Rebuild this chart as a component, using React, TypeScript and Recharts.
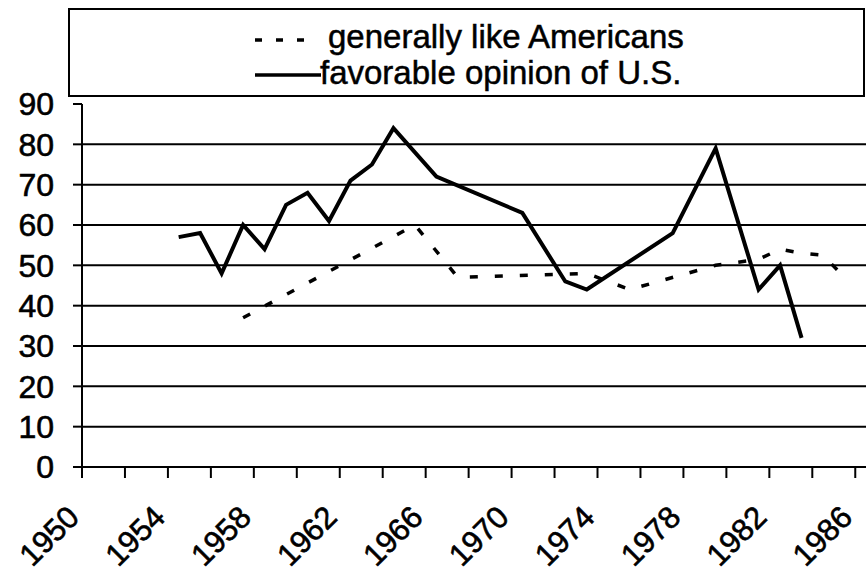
import React from 'react';
import { LineChart, Line, XAxis, YAxis, ReferenceLine, Legend } from 'recharts';

// ---- data ----
const favorableYears = [1954, 1955, 1956, 1957, 1958, 1959, 1960, 1961, 1962, 1963, 1964, 1966, 1970, 1972, 1973, 1977, 1979, 1981, 1982, 1983];
const favorableValues = [57, 58, 48, 60, 54, 65, 68, 61, 71, 75, 84, 72, 63, 46, 44, 58, 79, 44, 50, 32];

const likeYears = [1957, 1965, 1967, 1973, 1975, 1979, 1981, 1982, 1983, 1984, 1985];
const likeValues = [37, 60, 47, 48, 44, 50, 51.5, 54, 53, 52.5, 47];

const xTickYears = [1950, 1952, 1954, 1956, 1958, 1960, 1962, 1964, 1966, 1968, 1970, 1972, 1974, 1976, 1978, 1980, 1982, 1984, 1986];
const xLabelYears = [1950, 1954, 1958, 1962, 1966, 1970, 1974, 1978, 1982, 1986];
const yTicks = [0, 10, 20, 30, 40, 50, 60, 70, 80, 90];
const gridValues = [10, 20, 30, 40, 50, 60, 70, 80];

const seriesNames = ['generally like Americans', 'favorable opinion of U.S.'];

// each year's point sits in the middle of its year interval (category centre)
const favorableData = favorableYears.map((y, i) => ({ year: y + 0.5, value: favorableValues[i] }));
const likeData = likeYears.map((y, i) => ({ year: y + 0.5, value: likeValues[i] }));

const FONT = '"Liberation Sans", Arial, Helvetica, sans-serif';

const XTick = (props: any) => {
  const { x, y, payload } = props;
  if (!xLabelYears.includes(payload.value)) return null;
  const ax = x - 1;
  const ay = y + 39;
  return (
    <text
      x={ax}
      y={ay}
      textAnchor="end"
      fontSize={31}
      fontFamily={FONT}
      fill="#000"
      stroke="#000"
      strokeWidth={0.6}
      transform={`rotate(-45, ${ax}, ${ay})`}
    >
      {payload.value}
    </text>
  );
};

const LegendBox = () => (
  <div
    style={{
      position: 'relative',
      width: 797,
      height: 89,
      border: '2.5px solid #000',
      boxSizing: 'border-box',
      background: '#fff',
      fontFamily: FONT,
      fontSize: 33,
      color: '#000',
      WebkitTextStroke: '0.5px #000',
    }}
  >
    <svg style={{ position: 'absolute', left: 185, top: 26 }} width={60} height={8}>
      <line x1={0} y1={4} x2={52} y2={4} stroke="#000" strokeWidth={3.5} strokeDasharray="7 14" />
    </svg>
    <div style={{ position: 'absolute', left: 258, top: 10, lineHeight: '34px', whiteSpace: 'nowrap' }}>
      {seriesNames[0]}
    </div>
    <svg style={{ position: 'absolute', left: 185, top: 61 }} width={68} height={8}>
      <line x1={0} y1={4} x2={66} y2={4} stroke="#000" strokeWidth={3.5} />
    </svg>
    <div style={{ position: 'absolute', left: 250, top: 46, lineHeight: '34px', whiteSpace: 'nowrap' }}>
      {seriesNames[1]}
    </div>
  </div>
);

export default function App() {
  return (
    <div style={{ position: 'absolute', left: 0, top: 0, width: 867, height: 575, background: '#fff' }}>
      <LineChart width={867} height={575} margin={{ top: 104, right: 1, left: 0, bottom: 0 }}>
        <XAxis
          type="number"
          dataKey="year"
          domain={[1950, 1986.5]}
          ticks={xTickYears}
          allowDataOverflow
          height={108}
          tickSize={11}
          tickMargin={2}
          tick={<XTick />}
          axisLine={{ stroke: '#000', strokeWidth: 2 }}
          tickLine={{ stroke: '#000', strokeWidth: 2 }}
          interval={0}
        />
        <YAxis
          type="number"
          domain={[0, 90]}
          ticks={yTicks}
          width={82}
          tickSize={9}
          tickMargin={19}
          interval={0}
          axisLine={{ stroke: '#000', strokeWidth: 2 }}
          tickLine={{ stroke: '#000', strokeWidth: 2 }}
          tick={{ fill: '#000', fontSize: 32, fontFamily: FONT, stroke: '#000', strokeWidth: 0.6 }}
        />
        {gridValues.map((v) => (
          <ReferenceLine key={v} y={v} stroke="#000" strokeWidth={2} />
        ))}
        <Line
          data={likeData}
          dataKey="value"
          name={seriesNames[0]}
          type="linear"
          stroke="#000"
          strokeWidth={3.5}
          strokeDasharray="8 17"
          dot={false}
          activeDot={false}
          isAnimationActive={false}
        />
        <Line
          data={favorableData}
          dataKey="value"
          name={seriesNames[1]}
          type="linear"
          stroke="#000"
          strokeWidth={4}
          dot={false}
          activeDot={false}
          isAnimationActive={false}
        />
        <Legend
          layout="vertical"
          align="center"
          verticalAlign="middle"
          content={<LegendBox />}
          wrapperStyle={{ position: 'absolute', left: 68, top: 8, width: 797, height: 89 }}
        />
      </LineChart>
    </div>
  );
}
